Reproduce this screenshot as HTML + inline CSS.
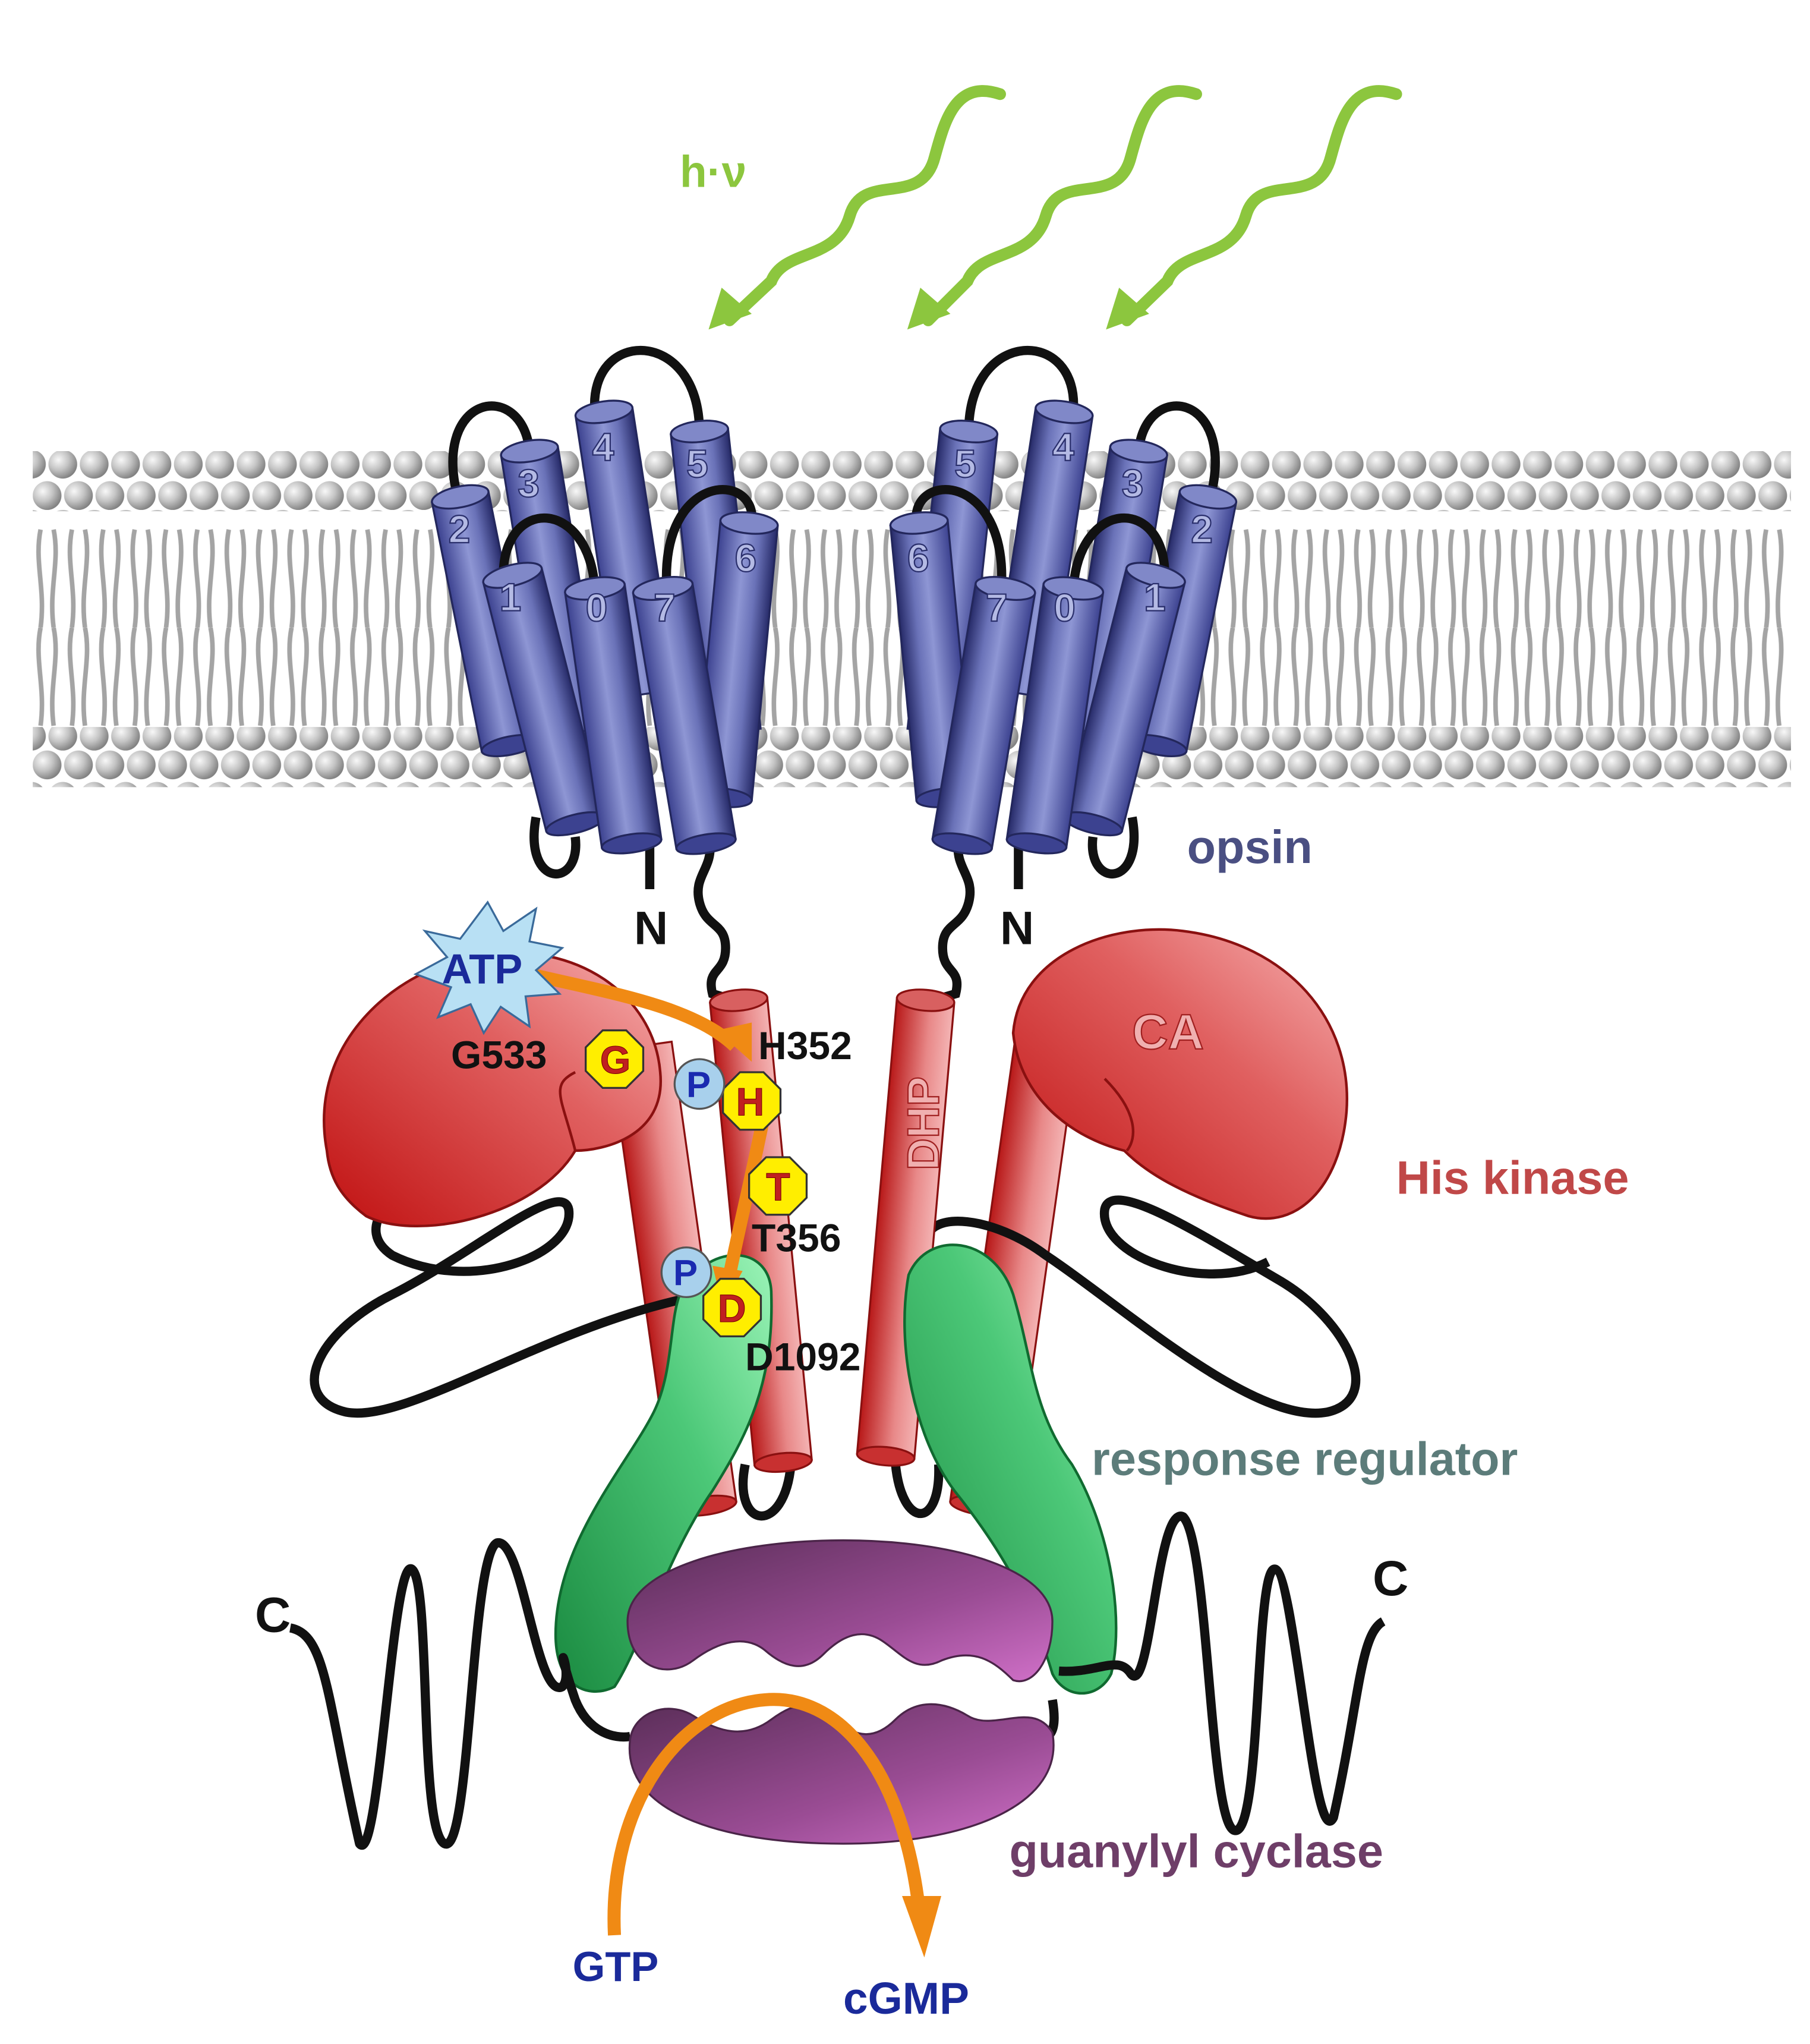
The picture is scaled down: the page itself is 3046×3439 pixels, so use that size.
<!DOCTYPE html>
<html><head><meta charset="utf-8"><style>
html,body{margin:0;padding:0;background:#fff}
svg{display:block}
text{font-family:"Liberation Sans",sans-serif;font-weight:bold}
</style></head><body>
<svg width="3046" height="3439" viewBox="0 0 1384.5 1563.2" xmlns="http://www.w3.org/2000/svg">
<defs>
<radialGradient id="ball" cx="0.35" cy="0.35" r="0.7"><stop offset="0" stop-color="#f8f8f8"/><stop offset="0.5" stop-color="#c4c4c4"/><stop offset="1" stop-color="#7e7e7e"/></radialGradient>
<pattern id="heads" width="24" height="46" patternUnits="userSpaceOnUse"><circle cx="12" cy="11" r="11" fill="url(#ball)"/><circle cx="0" cy="33" r="11" fill="url(#ball)"/><circle cx="24" cy="33" r="11" fill="url(#ball)"/></pattern>
<pattern id="headsB" width="24" height="46" patternUnits="userSpaceOnUse"><circle cx="12" cy="33" r="11" fill="url(#ball)"/><circle cx="0" cy="11" r="11" fill="url(#ball)"/><circle cx="24" cy="11" r="11" fill="url(#ball)"/></pattern>
<pattern id="tails" width="24" height="160" patternUnits="userSpaceOnUse"><path d="M7 0 C2 25 11 45 7 75 M17 0 C22 25 13 45 17 75 M7 85 C2 110 11 130 7 160 M17 85 C22 110 13 130 17 160" stroke="#a4a4a4" stroke-width="3.5" fill="none"/></pattern>
<linearGradient id="blue" x1="0" x2="1" y1="0" y2="0"><stop offset="0" stop-color="#3c4290"/><stop offset="0.45" stop-color="#8e96d4"/><stop offset="0.7" stop-color="#6a72b8"/><stop offset="1" stop-color="#262a68"/></linearGradient>
<linearGradient id="red" x1="0" x2="1"><stop offset="0" stop-color="#b81818"/><stop offset="0.6" stop-color="#e88888"/><stop offset="1" stop-color="#f4b4b4"/></linearGradient>
<linearGradient id="redblob" x1="0" y1="1" x2="1" y2="0"><stop offset="0" stop-color="#c01010"/><stop offset="0.6" stop-color="#e06060"/><stop offset="1" stop-color="#f6b0b0"/></linearGradient>
<linearGradient id="green" x1="0" y1="1" x2="1" y2="0"><stop offset="0" stop-color="#1a8a40"/><stop offset="0.6" stop-color="#4cc878"/><stop offset="1" stop-color="#9cf4b8"/></linearGradient>
<linearGradient id="purple" x1="0" y1="0" x2="1" y2="1"><stop offset="0" stop-color="#5a2e58"/><stop offset="0.6" stop-color="#9a4c94"/><stop offset="1" stop-color="#d070c8"/></linearGradient>
</defs>

<!-- membrane -->
<rect x="25" y="345" width="1345" height="46" fill="url(#heads)"/>
<rect x="25" y="398" width="1345" height="160" fill="url(#tails)"/>
<rect x="25" y="556" width="1345" height="46" fill="url(#headsB)"/>

<!-- light waves -->
<g fill="none" stroke="#8cc63e" stroke-width="9" stroke-linecap="round">
<path d="M765 72 C730 60 722 95 715 120 C705 160 660 130 650 165 C640 200 600 190 590 215 L558 245"/>
<path d="M915 72 C880 60 872 95 865 120 C855 160 810 130 800 165 C790 200 750 190 740 215 L710 245"/>
<path d="M1068 72 C1033 60 1025 95 1018 120 C1008 160 963 130 953 165 C943 200 903 190 893 215 L862 245"/>
</g>
<g fill="#8cc63e">
<polygon points="542,252 552,220 575,240"/>
<polygon points="694,252 704,220 727,240"/>
<polygon points="846,252 856,220 879,240"/>
</g>
<text x="520" y="143" font-size="34" fill="#8cc63e">h·ν</text>

<!-- opsin left (also mirrored) -->
<g id="ops">
<g fill="none" stroke="#111" stroke-width="7">
<path d="M350 380 C330 300 400 290 405 345"/>
<path d="M455 315 C450 250 535 250 535 330"/>
<path d="M410 625 C400 680 445 680 440 640"/>
<path d="M497 645 L497 680"/>
<path d="M543 645 C545 665 530 670 535 690 C540 710 555 705 555 725 C555 745 540 740 545 760 L562 765"/>
</g>
<g stroke="#23275c" stroke-width="1.5">
<g transform="translate(405,345) rotate(-9.2)"><rect x="-22" y="0" width="44" height="218" fill="url(#blue)"/><ellipse cx="0" cy="0" rx="22" ry="8" fill="#8088c8"/></g>
<g transform="translate(352,380) rotate(-11.3)"><rect x="-22" y="0" width="44" height="194" fill="url(#blue)"/><ellipse cx="0" cy="194" rx="22" ry="7" fill="#3c4290"/><ellipse cx="0" cy="0" rx="22" ry="8" fill="#8088c8"/></g>
<g transform="translate(462,315) rotate(-8.7)"><rect x="-22" y="0" width="44" height="218" fill="url(#blue)"/><ellipse cx="0" cy="0" rx="22" ry="8" fill="#8088c8"/></g>
<g transform="translate(535,330) rotate(-6.2)"><rect x="-22" y="0" width="44" height="231" fill="url(#blue)"/><ellipse cx="0" cy="0" rx="22" ry="8" fill="#8088c8"/></g>
</g>
<g fill="none" stroke="#111" stroke-width="7">
<path d="M385 440 C385 380 450 380 455 450"/>
<path d="M510 450 C505 360 580 360 575 400"/>
</g>
<g stroke="#23275c" stroke-width="1.5">
<g transform="translate(573,400) rotate(5.4)"><rect x="-22" y="0" width="44" height="211" fill="url(#blue)"/><ellipse cx="0" cy="211" rx="22" ry="7" fill="#3c4290"/><ellipse cx="0" cy="0" rx="22" ry="8" fill="#8088c8"/></g>
<g transform="translate(392,440) rotate(-14.2)"><rect x="-23" y="0" width="46" height="196" fill="url(#blue)"/><ellipse cx="0" cy="196" rx="23" ry="7" fill="#3c4290"/><ellipse cx="0" cy="0" rx="23" ry="8" fill="#8088c8"/></g>
<g transform="translate(455,450) rotate(-8.2)"><rect x="-23" y="0" width="46" height="197" fill="url(#blue)"/><ellipse cx="0" cy="197" rx="23" ry="7" fill="#3c4290"/><ellipse cx="0" cy="0" rx="23" ry="8" fill="#8088c8"/></g>
<g transform="translate(507,450) rotate(-9.6)"><rect x="-23" y="0" width="46" height="198" fill="url(#blue)"/><ellipse cx="0" cy="198" rx="23" ry="7" fill="#3c4290"/><ellipse cx="0" cy="0" rx="23" ry="8" fill="#8088c8"/></g>
</g>
</g>
<use href="#ops" transform="translate(1276,0) scale(-1,1)"/>

<g font-size="30" fill="#b4bae4" stroke="#2a2f6c" stroke-width="1" font-weight="normal">
<text x="343" y="415">2</text><text x="396" y="380">3</text><text x="453" y="352">4</text><text x="525" y="365">5</text>
<text x="382" y="467">1</text><text x="448" y="475">0</text><text x="500" y="475">7</text><text x="562" y="437">6</text>
<text x="911" y="415">2</text><text x="858" y="380">3</text><text x="805" y="352">4</text><text x="730" y="365">5</text>
<text x="875" y="467">1</text><text x="806" y="475">0</text><text x="754" y="475">7</text><text x="694" y="437">6</text>
</g>
<text x="485" y="722" font-size="36" fill="#111">N</text>
<text x="765" y="722" font-size="36" fill="#111">N</text>
<text x="908" y="660" font-size="36" fill="#4a4f82">opsin</text>

<!-- red cylinders back -->
<g stroke="#8a1010" stroke-width="1.5">
<g transform="translate(490,800) rotate(-8)"><rect x="-24" y="0" width="48" height="355" fill="url(#red)"/><ellipse cx="0" cy="355" rx="24" ry="7" fill="#c83030"/></g>
<g transform="translate(800,800) rotate(8)"><rect x="-24" y="0" width="48" height="355" fill="url(#red)"/><ellipse cx="0" cy="355" rx="24" ry="7" fill="#c83030"/></g>
</g>
<!-- loops -->
<g fill="none" stroke="#111" stroke-width="7">
<path d="M585 985 C450 990 320 1090 265 1080 C220 1070 240 1020 300 990 C360 960 430 900 435 925 C440 960 360 990 300 960 C270 940 300 910 330 900"/>
<path d="M708 950 C710 925 760 930 800 960 C860 1000 960 1090 1015 1080 C1060 1070 1030 1010 980 980 C920 945 850 900 845 925 C840 960 920 990 970 965"/>
<path d="M570 1120 C560 1170 600 1175 605 1120"/>
<path d="M685 1120 C690 1170 720 1170 718 1120"/>
</g>
<!-- red blobs -->
<path d="M250 880 C235 800 300 740 370 730 C440 720 500 760 505 820 C510 870 460 880 440 880 C410 930 320 950 280 930 C260 915 252 900 250 880Z" fill="url(#redblob)" stroke="#8a1010" stroke-width="2"/>
<path d="M440 880 C430 840 420 830 440 820" fill="none" stroke="#8a1010" stroke-width="2"/>
<path d="M775 790 C780 730 850 705 905 712 C985 722 1035 780 1030 850 C1025 910 990 940 955 930 C910 915 880 900 860 880 C820 870 780 840 775 790Z" fill="url(#redblob)" stroke="#8a1010" stroke-width="2"/>
<path d="M845 825 C870 850 870 870 862 880" fill="none" stroke="#8a1010" stroke-width="2"/>
<text x="866" y="802" font-size="38" fill="#f0b0b0" stroke="#a02020" stroke-width="1" font-weight="normal">CA</text>
<!-- central red cylinders -->
<g stroke="#8a1010" stroke-width="1.5">
<g transform="translate(565,765) rotate(-5.5)"><rect x="-22" y="0" width="44" height="355" fill="url(#red)"/><ellipse cx="0" cy="355" rx="22" ry="7" fill="#c83030"/><ellipse cx="0" cy="0" rx="22" ry="8" fill="#d86060"/></g>
<g transform="translate(708,765) rotate(5)"><rect x="-22" y="0" width="44" height="350" fill="url(#red)"/><ellipse cx="0" cy="350" rx="22" ry="7" fill="#c83030"/><ellipse cx="0" cy="0" rx="22" ry="8" fill="#d86060"/></g>
</g>
<text transform="translate(718,895) rotate(-90)" font-size="34" fill="#f0b0b0" stroke="#a02020" stroke-width="1" font-weight="normal">DHP</text>
<text x="1068" y="913" font-size="36" fill="#c04848">His kinase</text>

<!-- green response regulators -->
<path d="M520 990 C540 950 590 950 590 990 C592 1060 570 1100 545 1140 C510 1190 490 1260 470 1290 C450 1300 425 1290 425 1250 C425 1180 480 1120 500 1080 C515 1050 512 1010 520 990Z" fill="url(#green)" stroke="#106a30" stroke-width="2"/>
<path d="M695 975 C710 940 760 945 775 990 C790 1040 790 1080 820 1120 C850 1170 860 1240 850 1280 C840 1300 815 1300 805 1280 C790 1230 770 1190 730 1140 C700 1100 685 1030 695 975Z" fill="url(#green)" stroke="#106a30" stroke-width="2"/>
<text x="835" y="1128" font-size="36" fill="#5c7c7a">response regulator</text>

<!-- springs -->
<g fill="none" stroke="#111" stroke-width="7" stroke-linejoin="round">
<path d="M222 1245 C250 1250 250 1300 275 1410 C290 1430 300 1190 315 1200 C330 1210 320 1400 340 1410 C360 1420 360 1190 380 1180 C400 1175 410 1300 430 1290 C440 1280 420 1240 440 1300 C450 1325 470 1330 482 1328"/>
<path d="M1058 1240 C1040 1250 1040 1300 1020 1390 C1005 1420 990 1200 975 1200 C960 1200 965 1400 945 1400 C925 1400 925 1180 905 1160 C885 1150 880 1300 865 1280 C855 1265 840 1280 810 1278"/>
<path d="M805 1300 C810 1330 800 1330 790 1330"/>
</g>
<text x="195" y="1248" font-size="38" fill="#111">C</text>
<text x="1050" y="1220" font-size="38" fill="#111">C</text>

<!-- guanylyl cyclase -->
<path d="M480 1240 C480 1200 560 1178 645 1178 C730 1178 805 1200 805 1240 C805 1270 790 1290 775 1285 C760 1270 745 1260 720 1270 C700 1280 690 1265 675 1255 C660 1245 645 1250 630 1265 C615 1280 600 1275 585 1262 C570 1250 550 1255 530 1270 C510 1285 480 1275 480 1240Z" fill="url(#purple)" stroke="#4a2448" stroke-width="1.5"/>
<path d="M482 1330 C485 1310 510 1300 530 1312 C550 1325 570 1330 590 1315 C610 1300 625 1300 640 1315 C655 1330 670 1330 685 1315 C700 1300 720 1300 740 1312 C760 1325 790 1300 805 1325 C815 1380 740 1410 645 1410 C550 1410 475 1385 482 1330Z" fill="url(#purple)" stroke="#4a2448" stroke-width="1.5"/>
<text x="772" y="1428" font-size="36" fill="#6e3e68">guanylyl cyclase</text>

<!-- orange arrows -->
<g fill="none" stroke="#f08a14" stroke-width="10">
<path d="M470 1480 C465 1380 520 1305 585 1300 C640 1295 690 1350 703 1460"/>
<path d="M405 745 C470 760 530 770 562 800"/>
<path d="M585 850 C575 900 565 940 557 980"/>
</g>
<polygon points="690,1450 720,1450 707,1497" fill="#f08a14"/>
<polygon points="548,788 575,782 575,812" fill="#f08a14"/>
<polygon points="545,968 568,972 553,1000" fill="#f08a14"/>
<text x="438" y="1515" font-size="32" fill="#1a2a9a">GTP</text>
<text x="645" y="1540" font-size="34" fill="#1a2a9a">cGMP</text>

<!-- ATP & residues -->
<polygon points="373,690 385,712 410,695 405,720 430,725 410,742 428,760 402,762 405,785 383,770 370,790 360,768 335,778 345,755 318,745 342,732 325,712 352,718" fill="#b8e0f4" stroke="#3a6a9a" stroke-width="1.5"/>
<text x="338" y="752" font-size="32" fill="#1a2a9a">ATP</text>
<text x="345" y="817" font-size="30" fill="#111">G533</text>
<text x="580" y="810" font-size="30" fill="#111">H352</text>
<text x="575" y="957" font-size="30" fill="#111">T356</text>
<text x="570" y="1048" font-size="30" fill="#111">D1092</text>
<g stroke="#333" stroke-width="1.5" fill="#ffee00">
<polygon points="461,788 479,788 492,801 492,819 479,832 461,832 448,819 448,801"/>
<polygon points="566,820 584,820 597,833 597,851 584,864 566,864 553,851 553,833"/>
<polygon points="586,885 604,885 617,898 617,916 604,929 586,929 573,916 573,898"/>
<polygon points="551,978 569,978 582,991 582,1009 569,1022 551,1022 538,1009 538,991"/>
</g>
<g stroke="#555" stroke-width="1.5" fill="#a8d0ec">
<circle cx="535" cy="829" r="19"/><circle cx="525" cy="973" r="19"/>
</g>
<g font-size="30" fill="#c02020" stroke="#7a0000" stroke-width="0.5">
<text x="459" y="821">G</text><text x="563" y="853">H</text><text x="586" y="918">T</text><text x="549" y="1011">D</text>
</g>
<g font-size="28" fill="#1a2ab0">
<text x="525" y="839">P</text><text x="515" y="983">P</text>
</g>
</svg>
</body></html>
